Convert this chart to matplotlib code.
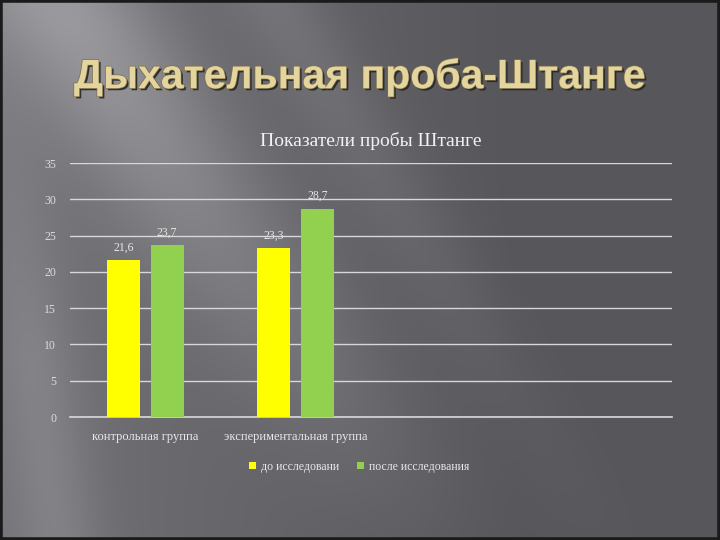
import numpy as np
import matplotlib
matplotlib.use("Agg")
import matplotlib.pyplot as plt
import matplotlib.patheffects as pe
from matplotlib.patches import Rectangle

# data
categories = ["контрольная группа", "экспериментальная группа", "", ""]
before = [21.6, 23.3]
after = [23.7, 28.7]
before_labels = ["21,6", "23,3"]
after_labels = ["23,7", "28,7"]
series_names = ["до исследовани", "после исследования"]
yticks = [0, 5, 10, 15, 20, 25, 30, 35]

fig = plt.figure(figsize=(7.2, 5.4), dpi=100)

# slide background: grey gradient with soft diagonal light streaks
bg = fig.add_axes([0, 0, 1, 1], zorder=0)
h, w = 540, 720
yy, xx = np.mgrid[0:h, 0:w]
xn = xx / w
yn = yy / h
base = 86 + 28 * np.clip(1 - xn * 1.4, 0, 1)
d = (xn - 0.08 - 0.5 * yn)
streak = 42 * np.exp(-(d / 0.13) ** 2) * np.clip(1.05 - yn, 0, 1)
d2 = (xn - 0.38 - 0.45 * yn)
streak2 = 16 * np.exp(-(d2 / 0.07) ** 2) * np.clip(1 - yn * 0.9, 0, 1)
d3 = (xn + 0.02 - 0.1 * yn)
streak3 = 18 * np.exp(-(d3 / 0.06) ** 2) * np.clip(yn * 1.5, 0, 1)
v = np.clip(base + streak + streak2 + streak3, 0, 255)
img = np.stack([v, v, v + 5], axis=-1).clip(0, 255) / 255
bg.imshow(img, aspect="auto", extent=[0, 1, 0, 1], origin="upper")
bg.add_patch(Rectangle((0, 0), 1, 1, fill=False, edgecolor="#1a1a1a", linewidth=4,
                       transform=bg.transAxes))
bg.set_axis_off()

# slide title
fig.text(0.5, 1 - 77 / 540, "Дыхательная проба-Штанге", ha="center", va="center",
         fontsize=29.5, fontweight="bold", family="Liberation Sans", color="#E4D59E",
         path_effects=[pe.withSimplePatchShadow(offset=(1.5, -1.5), shadow_rgbFace="#262626", alpha=0.9),
                       pe.withStroke(linewidth=1.0, foreground="#7d6f4a")],
         zorder=5)

ax = fig.add_axes([70 / 720, 1 - 417 / 540, 602 / 720, 254 / 540], zorder=2)
ax.patch.set_alpha(0)
x = np.arange(len(categories))
bw = 0.22
off = 0.145
ax.bar(x[:2] - off, before, width=bw, color="#FFFF00", zorder=3, label=series_names[0])
ax.bar(x[:2] + off, after, width=bw, color="#92D050", zorder=3, label=series_names[1])

serif = "Liberation Serif"
for i in range(2):
    ax.text(x[i] - off, before[i] + 0.9, before_labels[i], ha="center", va="bottom",
            fontsize=8.5, family=serif, color="#e8e8e8")
    ax.text(x[i] + off, after[i] + 0.9, after_labels[i], ha="center", va="bottom",
            fontsize=8.5, family=serif, color="#e8e8e8")

ax.set_xlim(-0.5, 3.5)
ax.set_ylim(0, 35)
ax.set_yticks(yticks)
ax.set_yticklabels([str(t) for t in yticks], family=serif, fontsize=8.5, color="#dcdcdc")
ax.set_xticks(x)
ax.set_xticklabels(categories, family=serif, fontsize=9, color="#e8e8e8")
ax.tick_params(length=0, pad=10)
for s in ax.spines.values():
    s.set_visible(False)
ax.yaxis.grid(True, color="#d8d8d8", linewidth=1.0, zorder=1)
ax.axhline(0, color="#d8d8d8", linewidth=1.2, zorder=2, clip_on=False)
ax.set_axisbelow(True)

ax.set_title("Показатели пробы Штанге", family=serif, fontsize=14, color="#f2f2f2", pad=12)

leg = ax.legend(loc="upper center", bbox_to_anchor=(0.48, -0.13), ncol=2, frameon=False,
                prop={"family": serif, "size": 8.5}, handlelength=0.6, handleheight=0.6,
                columnspacing=1.5, handletextpad=0.4)
for t in leg.get_texts():
    t.set_color("#e8e8e8")

fig.savefig("out.png", dpi=100)
